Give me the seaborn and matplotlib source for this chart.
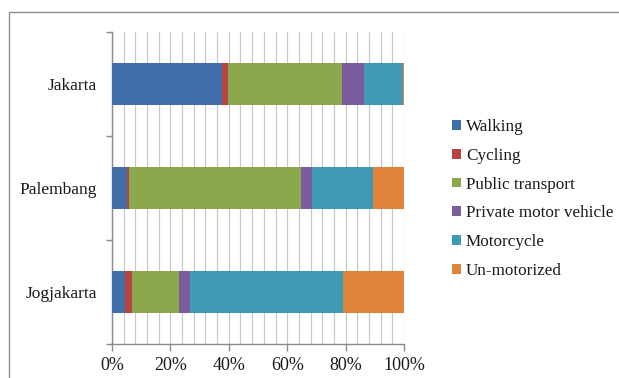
import matplotlib
matplotlib.use("Agg")
import matplotlib.pyplot as plt
from matplotlib.patches import Rectangle
from matplotlib.ticker import MultipleLocator, FuncFormatter
import numpy as np
import pandas as pd
import seaborn as sns

cities = ["Jakarta", "Palembang", "Jogjakarta"]
modes = ["Walking", "Cycling", "Public transport", "Private motor vehicle",
         "Motorcycle", "Un-motorized"]
walking = [37.6, 5.0, 4.5]
cycling = [2.2, 0.8, 2.4]
public_transport = [38.8, 58.9, 15.9]
private_motor = [7.8, 3.8, 3.9]
motorcycle = [13.3, 20.8, 52.3]
un_motorized = [0.3, 10.7, 21.0]
colors = ["#3F6EA9", "#B8423F", "#8BA84C", "#7A5B9C", "#3F9BB5", "#E0843B"]

shares = np.array([walking, cycling, public_transport, private_motor,
                   motorcycle, un_motorized])
cumulative = np.cumsum(shares, axis=0)

sns.set_theme(style="white")
plt.rcParams["font.family"] = ["Liberation Serif", "DejaVu Serif"]

fig = plt.figure(figsize=(6.19, 3.78), dpi=100)
ax = fig.add_axes([112 / 619, 1 - 344 / 378, 292 / 619, 312 / 378])

# stacked horizontal bars: draw cumulative totals from the outermost layer inwards
for i in range(len(modes) - 1, -1, -1):
    df = pd.DataFrame({"city": cities, "share": cumulative[i]})
    sns.barplot(data=df, x="share", y="city", order=cities, orient="h",
                color=colors[i], width=0.4, linewidth=0, saturation=1,
                ax=ax, zorder=3)

ax.set_xlim(0, 100)
ax.set_ylim(2.5, -0.5)
ax.set_xlabel("")
ax.set_ylabel("")

ax.xaxis.set_major_locator(MultipleLocator(20))
ax.xaxis.set_minor_locator(MultipleLocator(4))
ax.xaxis.set_major_formatter(FuncFormatter(lambda v, p: f"{v:.0f}%"))
ax.grid(True, axis="x", which="both", color="#C9C9C9", linewidth=0.9, zorder=0)
ax.set_axisbelow(True)

ax.set_yticks([0, 1, 2])
ax.set_yticklabels(cities)
ax.set_yticks([-0.5, 0.5, 1.5, 2.5], minor=True)

for s in ["top", "right"]:
    ax.spines[s].set_visible(False)
for s in ["left", "bottom"]:
    ax.spines[s].set_color("#8A8A8A")
    ax.spines[s].set_linewidth(1.0)

ax.tick_params(axis="y", which="major", length=0, pad=11, labelsize=12.5,
               labelcolor="#1A1A1A")
ax.tick_params(axis="y", which="minor", left=True, length=4, width=1,
               color="#8A8A8A", direction="out")
ax.tick_params(axis="x", which="major", bottom=True, length=5, width=1,
               color="#8A8A8A", direction="out", pad=4.5, labelsize=13,
               labelcolor="#1A1A1A")
ax.tick_params(axis="x", which="minor", bottom=False)

handles = [Rectangle((0, 0), 1, 1, facecolor=c, edgecolor="none") for c in colors]
fig.legend(handles, modes, loc="center left",
           bbox_to_anchor=(437 / 619, 1 - 199 / 378), frameon=False,
           fontsize=12.3, handlelength=0.5, handleheight=0.5,
           handletextpad=0.3, labelspacing=0.75, labelcolor="#1A1A1A")

# chart frame
fig.add_artist(Rectangle((9 / 619, -0.1), 1.2, 1.1 - 12 / 378,
                         transform=fig.transFigure, fill=False,
                         edgecolor="#8C8C8C", linewidth=1.0))

fig.savefig("out.png", dpi=100)
